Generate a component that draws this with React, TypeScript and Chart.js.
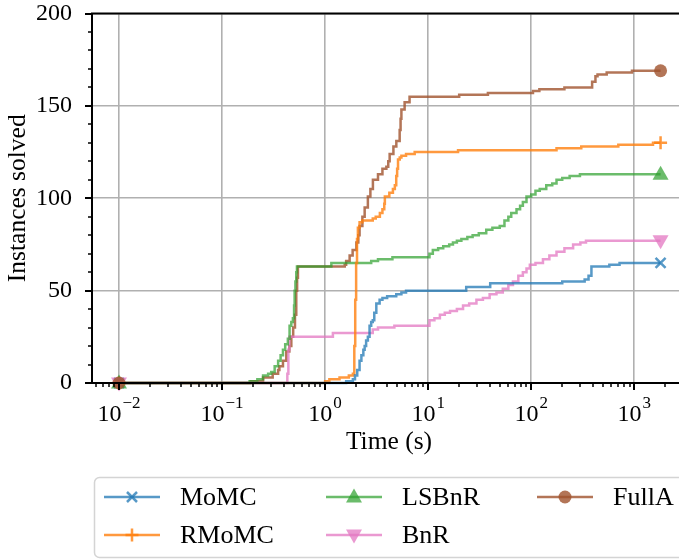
import React, { useEffect, useRef } from 'react';
import { Chart, registerables } from 'chart.js';

Chart.register(...registerables);

const FONT = "'Liberation Serif', 'Times New Roman', serif";

// ---- data ----
const seriesNames = ['MoMC', 'RMoMC', 'LSBnR', 'BnR', 'FullA'];

const momcTime = [0.01, 1.6, 1.86, 1.95, 2.05, 2.16, 2.25, 2.35, 2.42, 2.5, 2.6, 2.7, 2.8, 2.9, 3.0, 3.14, 3.38, 3.6, 4.0, 4.5, 4.9, 5.5, 6.1, 23.4, 40, 200, 330, 360, 384, 573, 720, 1800];
const momcSolved = [0, 1, 2, 4, 7, 12, 15, 18, 20, 23, 25, 31, 33, 34, 38, 43, 45, 46, 47, 47, 48, 49, 50, 52, 54, 55, 56, 58, 63, 64, 65, 65];

const rmomcTime = [0.01, 1.0, 1.1, 1.38, 1.7, 1.86, 1.92, 1.96, 2.0, 2.04, 2.08, 2.16, 2.3, 2.9, 3.1, 3.4, 3.6, 3.75, 3.8, 4.2, 4.55, 4.75, 4.9, 5.0, 5.1, 5.3, 5.5, 6.1, 7.4, 19.5, 176, 306, 700, 1520, 1800];
const rmomcSolved = [0, 1, 2, 3, 4, 5, 20, 45, 65, 78, 84, 87, 88, 89, 90, 92, 94, 97, 101, 103, 105, 107, 112, 116, 121, 122, 123, 124, 125, 126, 127, 128, 129, 130, 130];

const lsbnrTime = [0.01, 0.185, 0.22, 0.25, 0.28, 0.3, 0.324, 0.35, 0.37, 0.39, 0.41, 0.435, 0.452, 0.47, 0.487, 0.5, 0.506, 0.515, 0.525, 0.533, 1.15, 2.8, 3.26, 4.5, 10.3, 11.1, 12.5, 14, 16, 17.4, 19, 21, 24, 27, 31, 36.6, 42, 49.5, 55, 60, 64, 72, 78, 83, 90, 100, 110, 121, 140, 160, 176, 200, 236, 297, 1800];
const lsbnrSolved = [0, 1, 2, 4, 5, 6, 9, 12, 15, 18, 21, 24, 31, 33, 35, 42, 50, 55, 60, 63, 65, 66, 67, 68, 70, 72, 73, 74, 75, 76, 77, 78, 79, 80, 81, 83, 84, 85, 88, 90, 92, 94, 96, 98, 101, 102, 104, 105, 107, 108, 110, 111, 112, 113, 113];

const bnrTime = [0.01, 0.43, 0.44, 0.45, 1.19, 2.9, 3.26, 4.7, 10.3, 11.5, 13, 14.5, 16.3, 19, 21.8, 25, 29.4, 34, 39.5, 46, 53, 60, 66.5, 75, 83, 90, 97, 110, 130, 150, 176, 210, 255, 300, 340, 1800];
const bnrSolved = [0, 5, 18, 25, 27, 29, 30, 31, 34, 35, 37, 38, 39, 40, 42, 43, 45, 46, 48, 49, 51, 53, 55, 58, 60, 62, 64, 65, 67, 69, 71, 73, 75, 76, 77, 77];

const fullaTime = [0.01, 0.19, 0.25, 0.31, 0.35, 0.36, 0.39, 0.42, 0.45, 0.47, 0.49, 0.51, 0.525, 0.535, 0.545, 1.55, 1.6, 1.73, 1.85, 2.01, 2.1, 2.16, 2.3, 2.42, 2.6, 2.75, 2.91, 3.26, 3.6, 3.93, 4.1, 4.23, 4.6, 4.91, 5.29, 5.4, 5.5, 5.91, 6.6, 20, 38, 104, 120, 210, 390, 420, 440, 540, 950, 1800];
const fullaSolved = [0, 1, 3, 5, 7, 9, 12, 17, 20, 25, 30, 37, 50, 57, 63, 64, 66, 69, 72, 76, 80, 85, 90, 95, 101, 105, 110, 113, 116, 117, 120, 124, 128, 131, 137, 143, 148, 152, 155, 156, 157, 158, 159, 160, 163, 166, 167, 168, 169, 169];

const xTickValues = [0.01, 0.1, 1, 10, 100, 1000];
const xTickExponents = ['\u22122', '\u22121', '0', '1', '2', '3'];
const yTickValues = [0, 50, 100, 150, 200];
const xTitle = 'Time (s)';
const yTitle = 'Instances solved';

const seriesTimes = [momcTime, rmomcTime, lsbnrTime, bnrTime, fullaTime];
const seriesSolved = [momcSolved, rmomcSolved, lsbnrSolved, bnrSolved, fullaSolved];

// ---- styles ----
const COLORS = [
  'rgba(31,119,180,0.75)',
  'rgba(255,127,14,0.8)',
  'rgba(44,160,44,0.7)',
  'rgba(227,119,194,0.75)',
  'rgba(160,82,45,0.8)',
];
const MARKERS = ['x', '+', '^', 'v', 'o'];
const X_MIN = Math.pow(10, -2.262);
const X_MAX = Math.pow(10, 3.502);

function drawMarker(ctx: CanvasRenderingContext2D, m: string, x: number, y: number, color: string) {
  ctx.save();
  ctx.fillStyle = color;
  ctx.strokeStyle = color;
  ctx.lineWidth = 2.5;
  ctx.beginPath();
  if (m === 'o') {
    ctx.arc(x, y, 6.5, 0, Math.PI * 2);
    ctx.fill();
  } else if (m === '^') {
    ctx.moveTo(x, y - 8.5);
    ctx.lineTo(x + 8, y + 5.5);
    ctx.lineTo(x - 8, y + 5.5);
    ctx.closePath();
    ctx.fill();
  } else if (m === 'v') {
    ctx.moveTo(x, y + 8.5);
    ctx.lineTo(x + 8, y - 5.5);
    ctx.lineTo(x - 8, y - 5.5);
    ctx.closePath();
    ctx.fill();
  } else if (m === 'x') {
    const d = 5;
    ctx.moveTo(x - d, y - d); ctx.lineTo(x + d, y + d);
    ctx.moveTo(x - d, y + d); ctx.lineTo(x + d, y - d);
    ctx.stroke();
  } else {
    const d = 6.5;
    ctx.moveTo(x - d, y); ctx.lineTo(x + d, y);
    ctx.moveTo(x, y - d); ctx.lineTo(x, y + d);
    ctx.stroke();
  }
  ctx.restore();
}

const markerPlugin = {
  id: 'endMarkers',
  afterDatasetsDraw(chart: any) {
    const ctx = chart.ctx as CanvasRenderingContext2D;
    chart.data.datasets.forEach((ds: any, i: number) => {
      const meta = chart.getDatasetMeta(i);
      const pts = meta.data;
      if (!pts.length) return;
      [pts[0], pts[pts.length - 1]].forEach((p: any) => drawMarker(ctx, MARKERS[i], p.x, p.y, COLORS[i]));
    });
  },
};

const axesPlugin = {
  id: 'axesOverlay',
  afterDraw(chart: any) {
    const ctx = chart.ctx as CanvasRenderingContext2D;
    const a = chart.chartArea;
    const xs = chart.scales.x;
    const ys = chart.scales.y;
    ctx.save();
    // spines
    ctx.strokeStyle = '#000';
    ctx.lineWidth = 2;
    ctx.beginPath();
    ctx.moveTo(a.left, a.top); ctx.lineTo(a.right, a.top);
    ctx.moveTo(a.left, a.top - 1); ctx.lineTo(a.left, a.bottom + 1);
    ctx.moveTo(a.left, a.bottom); ctx.lineTo(a.right, a.bottom);
    ctx.stroke();
    // x ticks
    ctx.beginPath();
    ctx.lineWidth = 2;
    xTickValues.forEach((v) => {
      const px = Math.round(xs.getPixelForValue(v));
      ctx.moveTo(px, a.bottom); ctx.lineTo(px, a.bottom + 7);
    });
    ctx.stroke();
    ctx.beginPath();
    ctx.lineWidth = 1.5;
    for (let d = -3; d <= 3; d++) {
      for (let m = 2; m <= 9; m++) {
        const v = m * Math.pow(10, d);
        if (v < X_MIN || v > X_MAX) continue;
        const px = Math.round(xs.getPixelForValue(v));
        ctx.moveTo(px, a.bottom); ctx.lineTo(px, a.bottom + 4);
      }
    }
    ctx.stroke();
    // y ticks
    ctx.beginPath();
    ctx.lineWidth = 2;
    yTickValues.forEach((v) => {
      const py = Math.round(ys.getPixelForValue(v));
      ctx.moveTo(a.left - 7, py); ctx.lineTo(a.left, py);
    });
    ctx.stroke();
    ctx.beginPath();
    ctx.lineWidth = 1.5;
    for (let v = 10; v < 200; v += 10) {
      if (v % 50 === 0) continue;
      const py = Math.round(ys.getPixelForValue(v));
      ctx.moveTo(a.left - 4, py); ctx.lineTo(a.left, py);
    }
    ctx.stroke();
    // x tick labels with superscript exponent
    ctx.fillStyle = '#000';
    ctx.textBaseline = 'alphabetic';
    ctx.textAlign = 'left';
    xTickValues.forEach((v, i) => {
      const px = xs.getPixelForValue(v);
      ctx.font = `24px ${FONT}`;
      const wBase = ctx.measureText('10').width;
      ctx.font = `17px ${FONT}`;
      const wExp = ctx.measureText(xTickExponents[i]).width;
      const x0 = px - (wBase + wExp + 1) / 2;
      ctx.font = `24px ${FONT}`;
      ctx.fillText('10', x0, 421);
      ctx.font = `17px ${FONT}`;
      ctx.fillText(xTickExponents[i], x0 + wBase + 1, 408);
    });
    // x title
    ctx.font = `25.5px ${FONT}`;
    ctx.textAlign = 'center';
    ctx.fillText(xTitle, (a.left + a.right) / 2, 449);
    // legend
    const bx = 94.5, by = 477.5;
    ctx.beginPath();
    const r = 5;
    const bw = 700, bh = 80;
    ctx.moveTo(bx + r, by);
    ctx.lineTo(bx + bw, by);
    ctx.moveTo(bx + r, by + bh);
    ctx.lineTo(bx + bw, by + bh);
    ctx.moveTo(bx + r, by);
    ctx.arcTo(bx, by, bx, by + r, r);
    ctx.lineTo(bx, by + bh - r);
    ctx.arcTo(bx, by + bh, bx + r, by + bh, r);
    ctx.strokeStyle = '#d4d4d4';
    ctx.lineWidth = 1.5;
    ctx.stroke();
    const cols = [104, 326, 537];
    const rows = [497, 535];
    const layout = [[0, 0], [0, 1], [1, 0], [1, 1], [2, 0]];
    ctx.font = `26px ${FONT}`;
    ctx.textAlign = 'left';
    ctx.textBaseline = 'middle';
    seriesNames.forEach((name, i) => {
      const [c, rr] = layout[i];
      const lx = cols[c];
      const ly = rows[rr];
      ctx.strokeStyle = COLORS[i];
      ctx.lineWidth = 2.5;
      ctx.beginPath();
      ctx.moveTo(lx, ly); ctx.lineTo(lx + 56, ly);
      ctx.stroke();
      drawMarker(ctx, MARKERS[i], lx + 28, ly, COLORS[i]);
      ctx.fillStyle = '#000';
      ctx.fillText(name, lx + 76, ly + 1);
    });
    ctx.restore();
  },
};

export default function App() {
  const ref = useRef<HTMLCanvasElement | null>(null);
  useEffect(() => {
    if (!ref.current) return;
    const datasets = seriesNames.map((name, i) => ({
      label: name,
      data: seriesTimes[i].map((t, k) => ({ x: t, y: seriesSolved[i][k] })),
      borderColor: COLORS[i],
      backgroundColor: COLORS[i],
      borderWidth: 2.5,
      stepped: 'before' as const,
      pointRadius: 0,
      pointHoverRadius: 0,
      clip: false as any,
    }));
    const chart = new Chart(ref.current, {
      type: 'line',
      data: { datasets },
      options: {
        animation: false,
        responsive: false,
        devicePixelRatio: 1,
        events: [],
        layout: { padding: { left: 0, top: 13.5, right: 14, bottom: 0 } },
        plugins: { legend: { display: false }, tooltip: { enabled: false } },
        scales: {
          x: {
            type: 'logarithmic',
            min: X_MIN,
            max: X_MAX,
            afterBuildTicks: (s: any) => { s.ticks = xTickValues.map((v) => ({ value: v })); },
            afterFit: (s: any) => { s.height = 177; s.paddingLeft = 0; s.paddingRight = 0; },
            ticks: { display: false },
            grid: { color: '#b0b0b0', lineWidth: 1.6, drawTicks: false },
            border: { display: false },
          },
          y: {
            type: 'linear',
            min: 0,
            max: 200,
            afterBuildTicks: (s: any) => { s.ticks = yTickValues.map((v) => ({ value: v })); },
            afterFit: (s: any) => { s.width = 92; s.paddingTop = 0; s.paddingBottom = 0; },
            ticks: { color: '#000', font: { family: FONT, size: 24, lineHeight: 1 }, padding: 20 },
            grid: { color: '#b0b0b0', lineWidth: 1.6, drawTicks: false },
            border: { display: false },
            title: { display: true, text: yTitle, color: '#000', font: { family: FONT, size: 25.5, lineHeight: 1.2 }, padding: { top: 3, bottom: 0 } },
          },
        },
      },
      plugins: [markerPlugin, axesPlugin],
    });
    return () => chart.destroy();
  }, []);
  return (
    <div style={{ position: 'fixed', left: 0, top: 0, width: 679, height: 560, overflow: 'hidden', background: '#fff' }}>
      <canvas ref={ref} width={700} height={560} style={{ display: 'block' }} />
    </div>
  );
}
